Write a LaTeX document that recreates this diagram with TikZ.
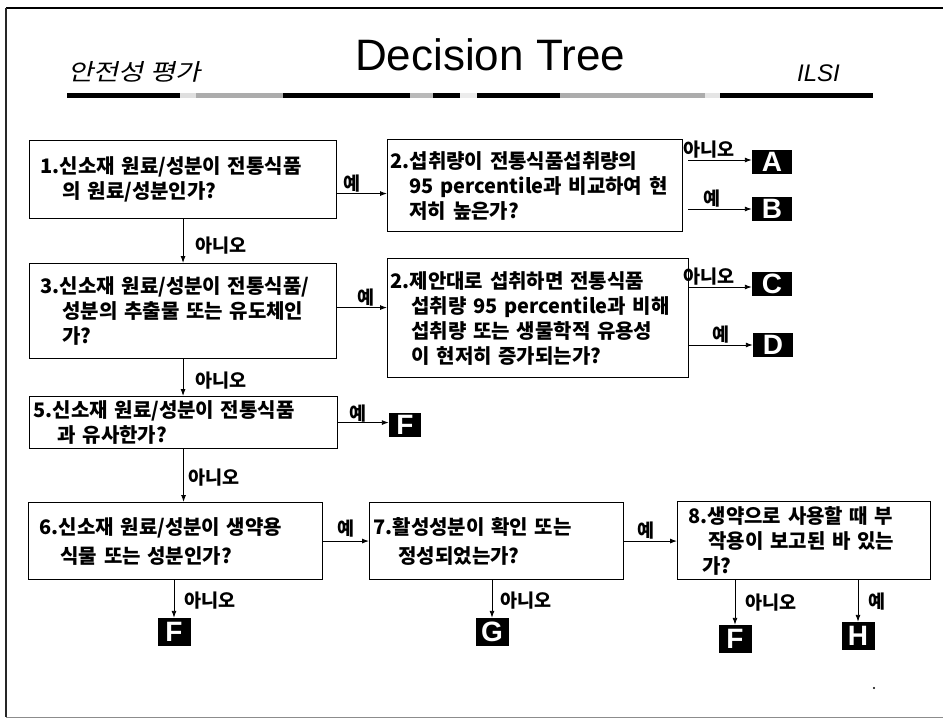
\documentclass[tikz,border=0pt]{standalone}
\usepackage{fontspec}
\setmainfont{Liberation Sans}
\newfontfamily\kr{Noto Sans CJK KR}
\newfontfamily\krit{Noto Sans CJK KR}[FakeSlant=0.22,FakeStretch=1.2]
\usetikzlibrary{arrows.meta}
\begin{document}
\begin{tikzpicture}[x=1pt,y=-1pt,
  qbox/.style={draw, line width=1.1pt, anchor=north west, inner xsep=0pt, inner ysep=0pt,
    align=left, font=\kr\bfseries\fontsize{20}{25}\selectfont},
  lbl/.style={font=\kr\bfseries\fontsize{18.5}{18.5}\selectfont, inner sep=1pt},
  arr/.style={line width=0.9pt, -{Latex[length=7pt,width=5pt]}},
  lettbox/.style={fill=black, text=white, font=\bfseries\fontsize{28}{28}\selectfont, inner sep=0pt},
  topl/.style={lettbox, minimum width=40pt, minimum height=24pt},
  botl/.style={lettbox, minimum width=33pt, minimum height=28pt}
]
\useasboundingbox (0,0) rectangle (943,718);
% frame
\draw[line width=1.6pt] (6,8) -- (943,8);
\draw[line width=2.2pt, black!85] (6,8) -- (6,717);
\draw[line width=1pt, black!45] (6,717) -- (943,717);
% title
\node[anchor=base west, inner sep=0pt, font=\krit\fontsize{23}{23}\selectfont] (t1) at (68,80) {안전성 평가};
\node[anchor=base west, inner sep=0pt, font=\fontsize{44}{44}\selectfont] (t2) at (355,70) {Decision Tree};
\node[anchor=base west, inner sep=0pt, font=\itshape\fontsize{24}{24}\selectfont] (t3) at (797,81) {ILSI};
\fill[black] (67,93) rectangle (873,98);
\fill[gray!25] (180,93) rectangle (196,98);
\fill[gray!65] (196,93) rectangle (283,98);
\fill[gray!55] (410,93) rectangle (433,98);
\fill[gray!15] (460,93) rectangle (477,98);
\fill[gray!65] (560,93) rectangle (705,98);
\fill[gray!20] (705,93) rectangle (720,98);
% boxes
\node[qbox, text width=307pt, minimum height=78pt] (b1) at (29,140)
  {\hspace*{11pt}1.신소재 원료/성분이 전통식품\\\hspace*{33pt}의 원료/성분인가?};
\node[qbox, text width=295pt, minimum height=92pt] (b2) at (387,139)
  {\hspace*{3pt}2.섭취량이 전통식품섭취량의\\\hspace*{22pt}95 percentile과 비교하여 현\\\hspace*{22pt}저히 높은가?};
\node[qbox, text width=307pt, minimum height=95pt] (b3) at (29,263)
  {\hspace*{11pt}3.신소재 원료/성분이 전통식품/\\\hspace*{33pt}성분의 추출물 또는 유도체인\\\hspace*{33pt}가?};
\node[qbox, text width=301pt, minimum height=119pt] (b4) at (387,258)
  {\hspace*{3pt}2.제안대로 섭취하면 전통식품\\\hspace*{24pt}섭취량 95 percentile과 비해\\\hspace*{24pt}섭취량 또는 생물학적 유용성\\\hspace*{24pt}이 현저히 증가되는가?};
\node[qbox, text width=308pt, minimum height=52pt] (b5) at (29,396)
  {\hspace*{4pt}5.신소재 원료/성분이 전통식품\\\hspace*{28pt}과 유사한가?};
\node[qbox, text width=294pt, minimum height=77pt] (b6) at (28,502)
  {\hspace*{11pt}6.신소재 원료/성분이 생약용\\[4pt]\hspace*{32pt}식물 또는 성분인가?};
\node[qbox, text width=254pt, minimum height=77pt] (b7) at (369,502)
  {\hspace*{4pt}7.활성성분이 확인 또는\\[4pt]\hspace*{29pt}정성되었는가?};
\node[qbox, text width=253pt, minimum height=78pt] (b8) at (677,501)
  {\hspace*{11pt}8.생약으로 사용할 때 부\\\hspace*{31pt}작용이 보고된 바 있는\\\hspace*{25pt}가?};
% outcome boxes
\node[topl] (A) at (772,162) {A};
\node[topl] (B) at (772,209) {B};
\node[topl] (C) at (772,284) {C};
\node[topl] (D) at (773,345) {D};
\node[lettbox, minimum width=32pt, minimum height=24pt] (E) at (405,425) {F};
\node[botl] (F1) at (174,632) {F};
\node[botl] (G) at (492,632) {G};
\node[botl] (F2) at (735,639) {F};
\node[botl] (H) at (858,636) {H};
% free starts
\coordinate (a0) at (688,160);
\coordinate (bb0) at (688,209);
\coordinate (c0) at (688,287);
% horizontal connectors
\draw[arr] ([yshift=-14pt]b1.east) -- ([yshift=-14pt]b1.east -| b2.west)
  node[pos=0.3, above, lbl] {예};
\draw[arr] ([yshift=3.5pt]b3.east) -- ([yshift=3.5pt]b3.east -| b4.west)
  node[pos=0.57, above, lbl] {예};
\draw[arr] (a0) -- (a0 -| A.west) node[pos=0.33, above, lbl] {아니오};
\draw[arr] (bb0) -- (bb0 -| B.west) node[pos=0.38, above, lbl] {예};
\draw[arr] (c0) -- (c0 -| C.west) node[pos=0.33, above, lbl] {아니오};
\draw[arr] (b4.east |- D.west) -- (D.west) node[pos=0.5, above, lbl] {예};
\draw[arr] (b5.east) -- (b5.east -| E.west) node[pos=0.4, above, lbl, inner sep=0pt] {예};
\draw[arr] (b6.east) -- (b7.west) node[pos=0.5, above, lbl, inner sep=3pt] {예};
\draw[arr] (b7.east) -- (b7.east -| b8.west) node[pos=0.42, above, lbl] {예};
% vertical connectors
\draw[arr] (b1.south) -- (b1.south |- b3.north) node[pos=0.6, right, lbl, xshift=12pt, inner sep=0pt] {아니오};
\draw[arr] (b3.south) -- (b3.south |- b5.north) node[pos=0.58, right, lbl, xshift=12pt, inner sep=0pt] {아니오};
\draw[arr] (b5.south) -- (b5.south |- b6.north) node[pos=0.54, right, lbl, xshift=4pt, inner sep=0pt] {아니오};
\draw[arr] (F1.north |- b6.south) -- (F1.north) node[pos=0.55, right, lbl, xshift=10pt, inner sep=0pt] {아니오};
\draw[arr] (G.north |- b7.south) -- (G.north) node[pos=0.55, right, lbl, xshift=8pt, inner sep=0pt] {아니오};
\draw[arr] (F2.north |- b8.south) -- (F2.north) node[pos=0.5, right, lbl, xshift=10pt, inner sep=0pt] {아니오};
\draw[arr] (H.north |- b8.south) -- (H.north) node[pos=0.52, right, lbl, xshift=10pt, inner sep=0pt] {예};
% stray dot
\fill (874,688) circle (1.2pt);
\end{tikzpicture}
\end{document}
